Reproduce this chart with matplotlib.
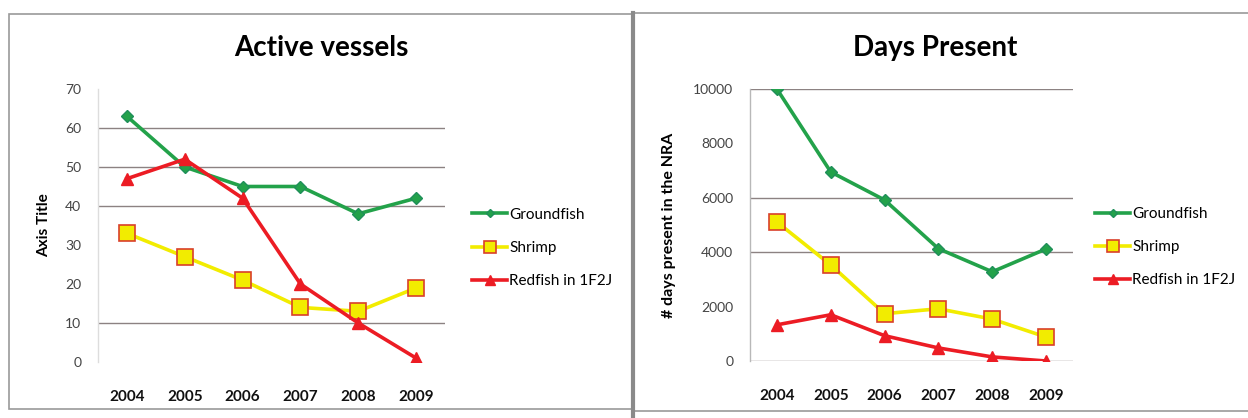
import matplotlib
matplotlib.use("Agg")
import matplotlib.pyplot as plt
from matplotlib.patches import Rectangle

plt.rcParams['font.family'] = ['Lato', 'DejaVu Sans']

years = ["2004", "2005", "2006", "2007", "2008", "2009"]
series_names = ["Groundfish", "Shrimp", "Redfish in 1F2J"]

vessels_groundfish = [63, 50, 45, 45, 38, 42]
vessels_shrimp = [33, 27, 21, 14, 13, 19]
vessels_redfish = [47, 52, 42, 20, 10, 1]

days_groundfish = [10000, 6950, 5920, 4130, 3280, 4120]
days_shrimp = [5110, 3530, 1740, 1920, 1540, 880]
days_redfish = [1330, 1700, 930, 480, 150, 0]

vessels_ticks = [0, 10, 20, 30, 40, 50, 60, 70]
vessels_grid = [10, 40, 50, 60]
days_ticks = [0, 2000, 4000, 6000, 8000, 10000]
days_grid = [0, 4000, 6000, 10000]

GREEN = "#23a24a"
YELLOW = "#f2ec00"
RED = "#ec1c24"

styles = [
    dict(color=GREEN, marker="D", markersize=6, markerfacecolor=GREEN,
         markeredgecolor="#1f8f5a", lw=2.6),
    dict(color=YELLOW, marker="s", markersize=11, markerfacecolor=YELLOW,
         markeredgecolor="#d9402a", markeredgewidth=1.2, lw=2.6),
    dict(color=RED, marker="^", markersize=9, markerfacecolor=RED,
         markeredgecolor=RED, lw=2.6),
]

W, H = 1248, 418
fig = plt.figure(figsize=(W / 100, H / 100), dpi=100)
fig.patch.set_facecolor("white")

# panel frames
fig.add_artist(Rectangle((9 / W, 1 - 409 / H), (633 - 9) / W, (409 - 14) / H,
                         transform=fig.transFigure, fill=False,
                         edgecolor="#9a9a9a", lw=1.2))
fig.add_artist(Rectangle((634 / W, 1 - 411 / H), (1250 - 634) / W, (411 - 13) / H,
                         transform=fig.transFigure, fill=False,
                         edgecolor="#9a9a9a", lw=1.2))
fig.add_artist(plt.Line2D([633 / W, 633 / W], [0, 1 - 13 / H],
                          transform=fig.transFigure, color="#8a8a8a", lw=3))


def draw_panel(ax, values, ticks, grid, ylim, title, ylabel, ylabel_size,
               title_x, ylabel_x, legend_x, axis_color):
    x = list(range(len(years)))
    for vals, name, st in zip(values, series_names, styles):
        ax.plot(x, vals, label=name, **st)
    ax.set_xlim(-0.5, len(years) - 0.5)
    ax.set_ylim(*ylim)
    ax.set_xticks(x)
    ax.set_xticklabels(years, fontsize=11, fontweight="bold", color="#111111")
    ax.set_yticks(ticks)
    ax.set_yticklabels([str(t) for t in ticks], fontsize=10, color="#444444")
    ax.tick_params(length=0)
    ax.tick_params(axis="x", pad=20)
    ax.tick_params(axis="y", pad=12)
    for s in ["top", "right", "bottom"]:
        ax.spines[s].set_visible(False)
    ax.spines["left"].set_color(axis_color)
    ax.spines["left"].set_linewidth(1.0)
    for g in grid:
        ax.axhline(g, color="#8c8282", lw=1.0, zorder=0)
    ax.set_facecolor("none")
    ax.set_ylabel(ylabel, fontsize=ylabel_size, fontweight="bold")
    ax.yaxis.set_label_coords(ylabel_x, 0.5)
    fig.text(title_x, 1 - 48 / H, title, fontsize=20, fontweight="bold",
             ha="center", va="center")
    ax.legend(loc="center left", bbox_to_anchor=(legend_x, 0.418),
              frameon=False, fontsize=11, handlelength=2.3,
              handletextpad=0.15, labelspacing=1.25, borderpad=0,
              borderaxespad=0, numpoints=1, markerscale=0.75)


ax1 = fig.add_axes([98 / W, 1 - 362 / H, 347 / W, 273 / H])
draw_panel(ax1, [vessels_groundfish, vessels_shrimp, vessels_redfish],
           vessels_ticks, vessels_grid, (0, 70), "Active vessels", "Axis Title",
           11, 321 / W, -0.135, 1.078, "#dddddd")

ax2 = fig.add_axes([750 / W, 1 - 361 / H, 323 / W, 272 / H])
draw_panel(ax2, [days_groundfish, days_shrimp, days_redfish],
           days_ticks, days_grid, (0, 10000), "Days Present",
           "# days present in the NRA", 11.5, 935 / W, -0.23, 1.068, "#b8b8b8")

fig.savefig("out.png", dpi=100)
